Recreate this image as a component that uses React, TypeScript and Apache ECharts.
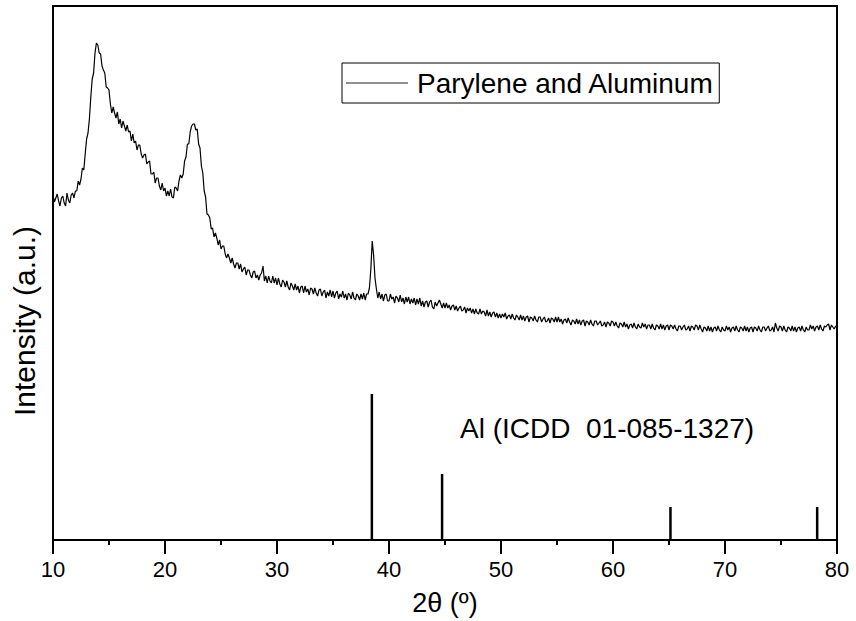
import React, { useEffect, useRef } from "react";
import * as echarts from "echarts";

// Measured XRD pattern: 2θ from 10° to 80° in 0.125° steps (20 values per 2.5° row)
const twoThetaStart = 10;
const twoThetaStep = 0.125;
const intensity = [
  345, 338, 342, 346, 339, 334, 342, 344, 337, 334, 347, 340, 337, 345, 347, 342, 349, 349, 359, 355,
  361, 372, 370, 386, 401, 407, 421, 443, 461, 467, 487, 497, 495, 487, 486, 474, 470, 467, 453, 452,
  450, 436, 427, 433, 427, 422, 428, 416, 421, 412, 419, 414, 409, 415, 408, 409, 399, 406, 397, 399,
  390, 395, 395, 386, 382, 385, 386, 376, 378, 379, 366, 366, 368, 357, 362, 362, 354, 350, 357, 349,
  352, 344, 349, 344, 351, 343, 342, 353, 352, 349, 359, 365, 362, 366, 379, 383, 396, 396, 408, 414,
  416, 416, 410, 411, 396, 392, 374, 367, 349, 343, 326, 325, 322, 311, 312, 303, 307, 302, 295, 300,
  291, 294, 294, 286, 282, 286, 282, 277, 282, 276, 272, 277, 277, 271, 276, 268, 271, 273, 265, 270,
  270, 265, 262, 268, 269, 262, 265, 260, 265, 267, 274, 259, 264, 257, 264, 259, 257, 264, 257, 262,
  255, 262, 256, 253, 260, 258, 253, 259, 253, 250, 257, 254, 250, 256, 250, 254, 247, 253, 254, 247,
  254, 248, 251, 245, 252, 251, 246, 252, 247, 244, 250, 251, 244, 248, 250, 242, 248, 244, 250, 243,
  249, 242, 247, 249, 241, 246, 243, 249, 242, 246, 240, 247, 245, 241, 248, 242, 240, 246, 244, 240,
  246, 241, 247, 240, 246, 246, 252, 270, 299, 285, 262, 251, 242, 248, 241, 246, 239, 245, 246, 239,
  239, 246, 241, 243, 237, 244, 242, 238, 245, 238, 242, 236, 243, 238, 243, 236, 241, 237, 242, 235,
  241, 236, 242, 234, 239, 233, 238, 239, 233, 238, 240, 233, 231, 238, 234, 237, 240, 236, 232, 237,
  232, 237, 232, 235, 230, 234, 235, 230, 234, 229, 232, 234, 229, 230, 233, 227, 232, 229, 232, 227,
  231, 226, 231, 227, 226, 231, 226, 229, 228, 224, 230, 224, 228, 223, 227, 228, 223, 227, 222, 226,
  222, 226, 223, 227, 221, 224, 225, 221, 226, 222, 220, 225, 223, 220, 225, 220, 224, 219, 223, 224,
  218, 223, 222, 219, 224, 220, 218, 223, 223, 218, 221, 223, 218, 219, 222, 217, 222, 221, 218, 223,
  218, 223, 218, 221, 216, 220, 221, 217, 222, 218, 215, 220, 219, 216, 221, 216, 220, 215, 219, 220,
  214, 219, 218, 215, 220, 216, 214, 219, 219, 215, 217, 219, 214, 215, 218, 213, 218, 217, 214, 219,
  218, 214, 218, 214, 212, 217, 216, 213, 218, 213, 216, 211, 215, 216, 212, 217, 213, 211, 216, 213,
  212, 217, 213, 216, 211, 215, 215, 211, 216, 212, 210, 215, 214, 211, 216, 211, 215, 210, 214, 215,
  210, 215, 214, 211, 215, 211, 209, 214, 214, 210, 213, 215, 210, 211, 214, 209, 214, 213, 210, 215,
  214, 210, 215, 211, 208, 213, 212, 209, 214, 209, 213, 208, 212, 213, 209, 214, 210, 208, 213, 210,
  209, 214, 210, 213, 208, 212, 213, 209, 214, 210, 208, 213, 212, 209, 214, 209, 213, 208, 212, 213,
  208, 213, 212, 209, 214, 210, 208, 213, 213, 209, 212, 214, 209, 210, 213, 208, 217, 212, 209, 214,
  213, 209, 214, 210, 208, 213, 212, 209, 214, 209, 213, 208, 212, 213, 209, 214, 210, 208, 213, 210,
  210, 215, 211, 214, 209, 213, 214, 210, 215, 211, 209, 214, 213, 215, 216, 210, 215, 213, 211, 214,
  212,
];

// Reference pattern: Al (ICDD 01-085-1327)
const refPositions = [38.47, 44.74, 65.13, 78.23];
const refHeights = [146, 66, 33, 33];

const xTicks = [10, 20, 30, 40, 50, 60, 70, 80];
const xMinorTicks = [15, 25, 35, 45, 55, 65, 75];
const seriesName = "Parylene and Aluminum";
const refLabel = "Al (ICDD  01-085-1327)";
const xName = "2θ (º)";
const yName = "Intensity (a.u.)";

const FONT = 'Arial, "Liberation Sans", sans-serif';
const Y_MIN = 0;
const Y_MAX = 534;

export default function App() {
  const ref = useRef<HTMLDivElement>(null);

  useEffect(() => {
    if (!ref.current) return;
    const chart = echarts.init(ref.current, undefined, { renderer: "svg" });
    const curve = intensity.map((v, i) => [twoThetaStart + i * twoThetaStep, v]);
    const sticks = refPositions.map((p, i) => [p, refHeights[i]]);

    chart.setOption({
      animation: false,
      backgroundColor: "#fff",
      grid: {
        left: 53,
        right: 19,
        top: 6,
        bottom: 81,
        show: true,
        borderColor: "#000",
        borderWidth: 2,
      },
      legend: {
        data: [{ name: seriesName, icon: "rect" }],
        left: 342,
        top: 63,
        padding: [6, 5, 6, 4],
        borderColor: "#000",
        borderWidth: 1,
        itemWidth: 62,
        itemHeight: 1,
        itemGap: 0,
        itemStyle: { color: "#222" },
        textStyle: { fontSize: 28, color: "#000", fontFamily: FONT, padding: [0, 0, 0, 4] },
      },
      xAxis: {
        type: "value",
        min: xTicks[0],
        max: xTicks[xTicks.length - 1],
        interval: 10,
        name: xName,
        nameLocation: "middle",
        nameGap: 49,
        nameTextStyle: { fontSize: 27, color: "#000", fontFamily: FONT },
        axisLine: { show: true, lineStyle: { color: "#000", width: 2 } },
        axisTick: { show: true, length: 14, inside: false, lineStyle: { color: "#000", width: 2 } },
        axisLabel: { show: true, margin: 18, fontSize: 22, color: "#000", fontFamily: FONT },
        splitLine: { lineStyle: { color: "rgba(0,0,0,0)" } },
      },
      yAxis: {
        type: "value",
        min: Y_MIN,
        max: Y_MAX,
        axisLine: { show: true, lineStyle: { color: "#000", width: 2 } },
        axisTick: { show: true, length: 0, lineStyle: { color: "rgba(0,0,0,0)" } },
        axisLabel: { show: false },
        splitLine: { lineStyle: { color: "rgba(0,0,0,0)" } },
      },
      series: [
        {
          name: seriesName,
          type: "line",
          data: curve,
          symbol: "none",
          lineStyle: { color: "#000", width: 1.2 },
          itemStyle: { color: "#000" },
          z: 3,
        },
        {
          name: "Al reference",
          type: "bar",
          data: sticks,
          barWidth: 2.5,
          itemStyle: { color: "#000" },
          z: 2,
        },
      ],
    });

    // Texts plus tick marks placed through the chart's own x scale
    const tickRect = (v: number, len: number) => {
      const p = chart.convertToPixel({ gridIndex: 0 }, [v, Y_MIN]) as number[];
      return {
        type: "rect",
        z: 100,
        shape: { x: Math.round(p[0]) - 1, y: p[1], width: 2, height: len },
        style: { fill: "#000" },
      };
    };
    chart.setOption({
      graphic: [
        {
          type: "text",
          x: 24,
          y: 321,
          rotation: Math.PI / 2,
          style: {
            text: yName,
            fontSize: 30,
            fontFamily: FONT,
            fill: "#000",
            align: "center",
            verticalAlign: "middle",
          },
        },
        {
          type: "text",
          x: 460,
          y: 428,
          style: {
            text: refLabel,
            fontSize: 28,
            fontFamily: FONT,
            fill: "#000",
            align: "left",
            verticalAlign: "middle",
          },
        },
        ...xTicks.map((t) => tickRect(t, 14)),
        ...xMinorTicks.map((t) => tickRect(t, 5)),
      ],
    });

    return () => chart.dispose();
  }, []);

  return <div ref={ref} style={{ width: 856, height: 621, position: "absolute", left: 0, top: 0 }} />;
}
